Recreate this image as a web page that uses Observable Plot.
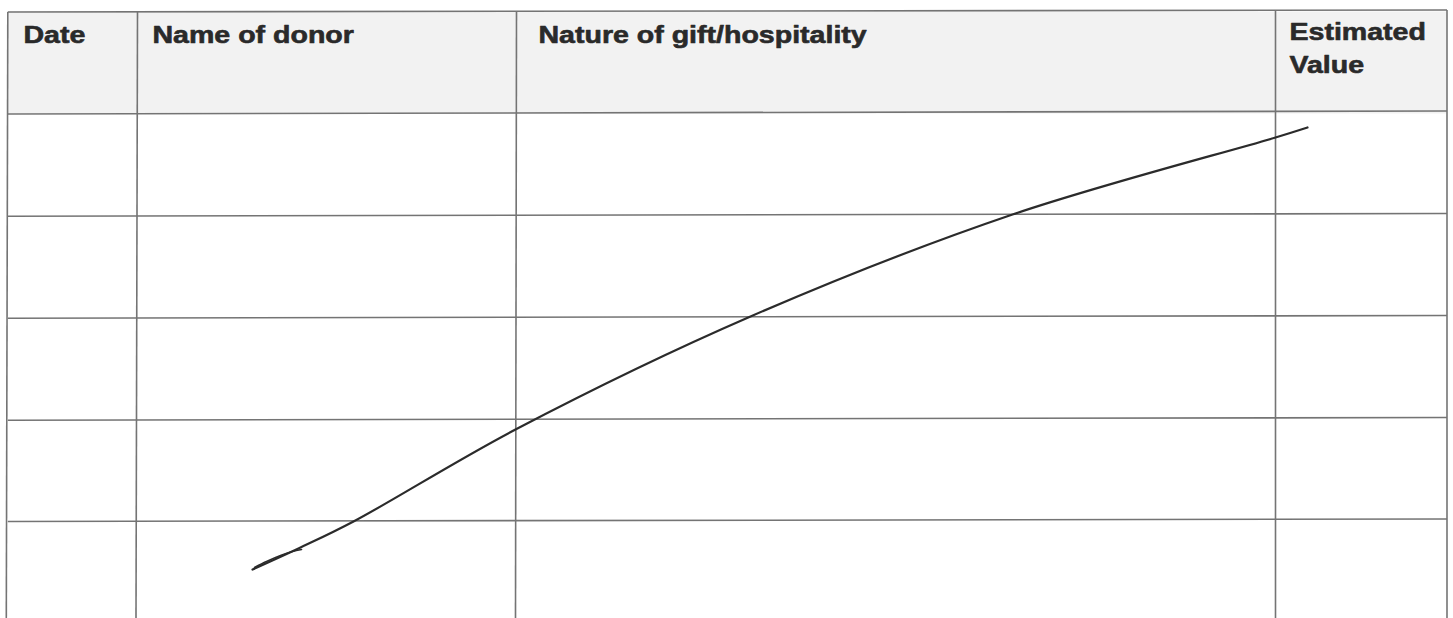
<!DOCTYPE html>
<html>
<head>
<meta charset="utf-8">
<script src="https://cdn.jsdelivr.net/npm/d3@7"></script>
<script src="https://cdn.jsdelivr.net/npm/@observablehq/plot@0.6"></script>
<style>
  html, body { margin: 0; padding: 0; background: #fff; }
  #chart svg { display: block; }
</style>
</head>
<body>
<div id="chart"></div>
<script>
// Table header labels
const headers = ["Date", "Name of donor", "Nature of gift/hospitality", "Estimated\nValue"];
const headerX = [23, 152, 538, 1289];
const headerTop = [19, 19, 19, 16];

// Horizontal table rules (left end y, right end y) — scan is slightly tilted
const hLeftY  = [11.5, 113.5, 215.7, 317.7, 419.7, 521];
const hRightY = [9.5, 110.5, 213, 315, 417, 518.5];
// Vertical table rules (top x, bottom x)
const vTopX    = [7.3, 137, 516, 1275, 1446.5];
const vBottomX = [5.8, 135.5, 515, 1275, 1446.5];

// Hand-drawn stroke across the table
const strokeX = [252, 300, 353, 515, 750, 1012, 1275, 1307];
const strokeY = [569, 547, 521, 429, 316, 214, 137, 127];
// small doubled-back pen loop near the start
const loopX = [254, 266, 280, 292, 301];
const loopY = [567, 561, 555, 551, 549];

const W = 1453, H = 618;

const hRules = hLeftY.map((y, i) => ({x1: vTopX[0], x2: vTopX[vTopX.length - 1], y1: y, y2: hRightY[i]}));
const vRules = vTopX.map((x, i) => ({x1: x, x2: vBottomX[i], y1: hLeftY[0] + (hRightY[0] - hLeftY[0]) * (x / W), y2: H}));
const stroke = strokeX.map((x, i) => ({x, y: strokeY[i]}));
const loop = loopX.map((x, i) => ({x, y: loopY[i]}));
const headerData = headers.map((h, i) => ({label: h, x: headerX[i], y: headerTop[i]}));
const headerBand = [{x1: vTopX[0], x2: vTopX[vTopX.length - 1], y1: hLeftY[0], y2: hLeftY[1]}];

function stretchText(index, scales, values, dims, ctx, next) {
  const g = next(index, scales, values, dims, ctx);
  g.querySelectorAll("text").forEach(t => {
    const tr = t.getAttribute("transform");
    if (tr) {
      t.setAttribute("transform", tr + " scale(1.19,1)");
    } else {
      const x = +t.getAttribute("x") || 0, y = +t.getAttribute("y") || 0;
      t.removeAttribute("x"); t.removeAttribute("y");
      t.setAttribute("transform", `translate(${x},${y}) scale(1.19,1)`);
    }
  });
  return g;
}

const chart = Plot.plot({
  width: W,
  height: H,
  margin: 0,
  x: {domain: [0, W], range: [0, W], axis: null},
  y: {domain: [0, H], range: [0, H], axis: null},
  style: {background: "#fff", fontFamily: "'Liberation Sans', Arial, sans-serif"},
  marks: [
    Plot.rect(headerBand, {x1: "x1", x2: "x2", y1: "y1", y2: "y2", fill: "#f2f2f2"}),
    Plot.link(hRules, {x1: "x1", x2: "x2", y1: "y1", y2: "y2", stroke: "#747474", strokeWidth: 1.6}),
    Plot.link(vRules, {x1: "x1", x2: "x2", y1: "y1", y2: "y2", stroke: "#747474", strokeWidth: 1.6}),
    Plot.text(headerData, {
      x: "x", y: "y", text: "label",
      textAnchor: "start", lineAnchor: "top",
      fontSize: 24, fontWeight: "bold", fill: "#2a2a2a",
      stroke: "#2a2a2a", strokeWidth: 0.6,
      lineHeight: 1.375,
      render: stretchText
    }),
    Plot.line(stroke, {x: "x", y: "y", curve: "catmull-rom", stroke: "#2b2b2b", strokeWidth: 2.2}),
    Plot.line(loop, {x: "x", y: "y", curve: "catmull-rom", stroke: "#2b2b2b", strokeWidth: 1.6})
  ]
});
document.getElementById("chart").appendChild(chart);
</script>
</body>
</html>
